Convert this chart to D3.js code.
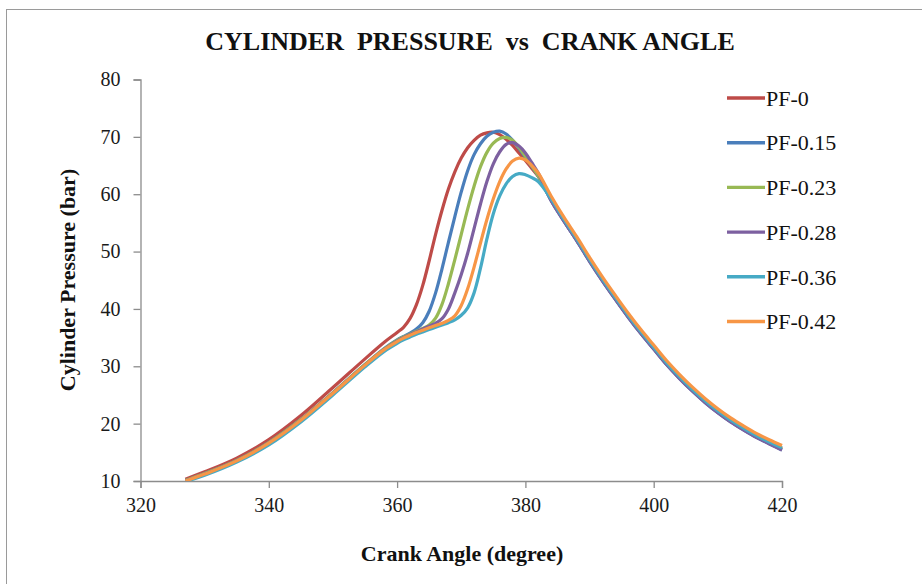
<!DOCTYPE html>
<html>
<head>
<meta charset="utf-8">
<script src="https://cdn.jsdelivr.net/npm/d3@7"></script>
<style>
  html, body { margin: 0; padding: 0; background: #fff; }
  svg { display: block; font-family: "Liberation Serif", "Times New Roman", serif; }
</style>
</head>
<body>
<svg id="chart" width="922" height="584"></svg>
<script>
// Cylinder pressure traces for each PF blend
const crankAngle = [327, 330, 335, 340, 345, 350, 355, 358,
  360, 361, 362, 363, 364, 365, 366, 367, 368, 369, 370, 371, 372, 373, 374, 375,
  376, 377, 378, 379, 380, 381, 382,
  384, 386, 388, 390, 392, 394, 396, 398, 400, 402, 404, 406, 408, 410, 412, 414, 416, 418, 420];

const pf0 = [10.3, 11.6, 14.0, 17.2, 21.4, 26.3, 31.3, 34.2,
  35.9, 36.8, 38.3, 40.7, 44.1, 48.4, 53.0, 57.2, 60.9, 63.9, 66.3, 68.1, 69.4, 70.3, 70.7, 70.8,
  70.4, 69.6, 68.5, 67.2, 65.9, 64.5, 63.1,
  59.0, 55.4, 52.0, 48.4, 45.0, 41.8, 38.7, 35.8, 33.1, 30.4, 28.0, 25.8, 23.8, 22.0, 20.4, 19.0, 17.7, 16.6, 15.6];

const pf015 = [10.1, 11.3, 13.6, 16.7, 20.7, 25.4, 30.3, 33.1,
  34.6, 35.2, 35.8, 36.5, 37.6, 39.6, 42.8, 47.0, 51.6, 56.1, 60.4, 64.1, 66.9, 68.8, 70.1, 70.8,
  71.0, 70.5, 69.4, 68.0, 66.4, 64.8, 63.2,
  58.9, 55.3, 51.9, 48.3, 44.9, 41.7, 38.6, 35.7, 33.0, 30.3, 27.9, 25.7, 23.7, 21.9, 20.3, 18.9, 17.6, 16.5, 15.4];

const pf023 = [10.1, 11.3, 13.6, 16.7, 20.7, 25.4, 30.3, 33.0,
  34.5, 35.1, 35.6, 36.1, 36.6, 37.2, 38.4, 40.8, 44.4, 48.6, 53.0, 57.4, 61.4, 64.8, 67.3, 68.9,
  69.7, 69.9, 69.4, 68.2, 66.6, 64.9, 63.2,
  59.1, 55.5, 52.1, 48.5, 45.1, 41.9, 38.8, 35.9, 33.2, 30.5, 28.1, 25.9, 23.9, 22.1, 20.5, 19.1, 17.8, 16.7, 15.6];

const pf028 = [10.0, 11.2, 13.5, 16.6, 20.6, 25.3, 30.2, 32.9,
  34.4, 35.0, 35.5, 36.0, 36.5, 37.0, 37.5, 38.3, 40.0, 42.8, 46.0, 49.7, 54.0, 58.3, 62.2, 65.3,
  67.4, 68.7, 69.0, 68.4, 67.2, 65.5, 63.7,
  58.9, 55.3, 51.9, 48.3, 44.9, 41.7, 38.6, 35.7, 33.0, 30.3, 27.9, 25.7, 23.7, 21.9, 20.3, 18.9, 17.6, 16.5, 15.4];

const pf036 = [9.9, 11.0, 13.3, 16.3, 20.3, 25.0, 29.9, 32.6,
  34.0, 34.6, 35.1, 35.6, 36.0, 36.4, 36.8, 37.2, 37.6, 38.1, 38.9, 40.2, 42.8, 47.1, 52.2, 56.6,
  59.7, 61.8, 63.1, 63.6, 63.4, 62.9, 62.2,
  59.2, 55.6, 52.2, 48.6, 45.2, 42.0, 38.9, 36.0, 33.3, 30.6, 28.2, 26.0, 24.0, 22.2, 20.6, 19.2, 17.9, 16.8, 15.8];

const pf042 = [10.0, 11.2, 13.5, 16.6, 20.6, 25.3, 30.2, 32.9,
  34.3, 34.9, 35.4, 35.9, 36.3, 36.7, 37.1, 37.5, 38.0, 38.8, 40.6, 43.5, 47.3, 51.5, 55.6, 59.2,
  62.2, 64.4, 65.8, 66.3, 66.0, 65.0, 63.7,
  59.7, 56.0, 52.6, 49.0, 45.6, 42.4, 39.3, 36.4, 33.7, 31.0, 28.6, 26.4, 24.4, 22.6, 21.0, 19.6, 18.3, 17.2, 16.2];

const seriesNames = ["PF-0", "PF-0.15", "PF-0.23", "PF-0.28", "PF-0.36", "PF-0.42"];
const seriesValues = [pf0, pf015, pf023, pf028, pf036, pf042];
const seriesColors = ["#be4b48", "#4a7ebb", "#98b954", "#7d60a0", "#46aac5", "#f79646"];

const xTicks = [320, 340, 360, 380, 400, 420];
const yTicks = [10, 20, 30, 40, 50, 60, 70, 80];

const svg = d3.select("#chart");
const plot = { left: 140.5, right: 782, top: 79.5, bottom: 481 };

const x = d3.scaleLinear().domain([320, 420]).range([plot.left, plot.right]);
const y = d3.scaleLinear().domain([10, 80]).range([plot.bottom, plot.top]);

// outer chart frame (top and left edges visible)
svg.append("rect")
  .attr("x", 6.5).attr("y", 9.5)
  .attr("width", 1000).attr("height", 1000)
  .attr("fill", "none").attr("stroke", "#9a9a9a").attr("stroke-width", 1);

svg.append("text")
  .attr("x", 470).attr("y", 50)
  .attr("text-anchor", "middle")
  .attr("font-size", 26).attr("font-weight", "bold").attr("fill", "#111")
  .style("white-space", "pre")
  .text("CYLINDER  PRESSURE  vs  CRANK ANGLE");

svg.append("defs").append("clipPath").attr("id", "plot-clip")
  .append("rect")
  .attr("x", plot.left).attr("y", plot.top - 5)
  .attr("width", plot.right - plot.left + 5).attr("height", plot.bottom - plot.top + 5);

// axes
const xAxis = svg.append("g")
  .attr("transform", `translate(0,${plot.bottom})`)
  .call(d3.axisBottom(x).tickValues(xTicks).tickSize(7).tickPadding(10));
const yAxis = svg.append("g")
  .attr("transform", `translate(${plot.left},0)`)
  .call(d3.axisLeft(y).tickValues(yTicks).tickSize(7).tickPadding(13));

[xAxis, yAxis].forEach(g => {
  g.select(".domain").attr("stroke", "#8c8c8c").attr("stroke-width", 1.3);
  g.selectAll(".tick line").attr("stroke", "#8c8c8c").attr("stroke-width", 1.3);
  g.selectAll(".tick text")
    .attr("font-family", "Liberation Serif, serif")
    .attr("font-size", 20).attr("fill", "#1a1a1a");
});

svg.append("text")
  .attr("x", 462).attr("y", 561)
  .attr("text-anchor", "middle")
  .attr("font-size", 22).attr("font-weight", "bold").attr("fill", "#111")
  .text("Crank Angle (degree)");

svg.append("text")
  .attr("transform", "translate(75,280) rotate(-90)")
  .attr("text-anchor", "middle")
  .attr("font-size", 22).attr("font-weight", "bold").attr("fill", "#111")
  .text("Cylinder Pressure (bar)");

// pressure curves
const line = d3.line()
  .x((d, i) => x(crankAngle[i]))
  .y(d => y(d))
  .curve(d3.curveCatmullRom.alpha(0.5));

svg.append("g").attr("clip-path", "url(#plot-clip)")
  .selectAll("path")
  .data(seriesValues)
  .join("path")
  .attr("d", line)
  .attr("fill", "none")
  .attr("stroke", (d, i) => seriesColors[i])
  .attr("stroke-width", 3.2)
  .attr("stroke-linejoin", "round");

// legend
const legend = svg.append("g").attr("transform", "translate(727,98)");
const rows = legend.selectAll("g")
  .data(seriesNames)
  .join("g")
  .attr("transform", (d, i) => `translate(0,${i * 44.7})`);
rows.append("line")
  .attr("x1", 0).attr("x2", 38).attr("y1", 0).attr("y2", 0)
  .attr("stroke", (d, i) => seriesColors[i])
  .attr("stroke-width", 3.4);
rows.append("text")
  .attr("x", 39).attr("y", 0).attr("dy", "0.35em")
  .attr("font-size", 22).attr("fill", "#111")
  .text(d => d);
</script>
</body>
</html>
